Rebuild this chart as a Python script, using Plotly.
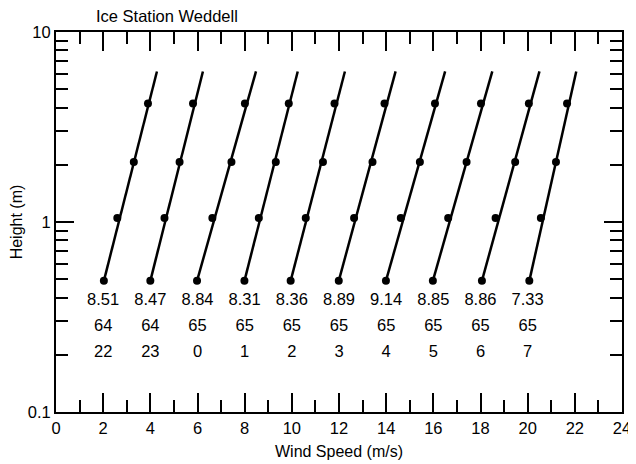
import plotly.graph_objects as go

# wind profiles, each run shifted 2 m/s to the right
heights = [0.49, 1.05, 2.07, 4.2]
x_049 = [2.03, 4.00, 5.98, 7.99, 9.95, 11.99, 13.99, 15.98, 18.06, 20.07]
x_105 = [2.60, 4.60, 6.63, 8.60, 10.59, 12.64, 14.62, 16.63, 18.64, 20.56]
x_207 = [3.30, 5.24, 7.44, 9.32, 11.32, 13.42, 15.43, 17.41, 19.47, 21.20]
x_420 = [3.90, 5.81, 8.01, 9.87, 11.81, 13.93, 16.07, 18.02, 20.05, 21.67]

# fitted log profile, drawn from the lowest level up to 6.2 m
fit_heights = [0.49, 6.2]
fit_top_x = [4.28, 6.23, 8.48, 10.25, 12.25, 14.40, 16.50, 18.50, 20.50, 22.06]

label_x = [2, 4, 6, 8, 10, 12, 14, 16, 18, 20]
speed = ["8.51", "8.47", "8.84", "8.31", "8.36", "8.89", "9.14", "8.85", "8.86", "7.33"]
day = ["64", "64", "65", "65", "65", "65", "65", "65", "65", "65"]
hour = ["22", "23", "0", "1", "2", "3", "4", "5", "6", "7"]

FONT = "Liberation Sans, Arial, sans-serif"

fig = go.Figure()
for i in range(len(x_049)):
    fig.add_trace(go.Scatter(
        x=[x_049[i], fit_top_x[i]], y=fit_heights, mode="lines",
        line=dict(color="black", width=2.5), showlegend=False, hoverinfo="skip",
    ))
    fig.add_trace(go.Scatter(
        x=[x_049[i], x_105[i], x_207[i], x_420[i]], y=heights, mode="markers",
        marker=dict(color="black", size=8), showlegend=False,
    ))

for row, y in [(speed, 0.384), (day, 0.28), (hour, 0.205)]:
    fig.add_trace(go.Scatter(
        x=label_x, y=[y] * len(label_x), mode="text", text=row,
        textfont=dict(size=16.5, color="black", family=FONT),
        showlegend=False, hoverinfo="skip",
    ))

axis_common = dict(
    showline=True, linecolor="black", linewidth=2, mirror="allticks",
    ticks="inside", tickcolor="black", tickwidth=1.5,
    showgrid=False, zeroline=False, automargin=False,
    tickfont=dict(size=16.5, color="black", family=FONT),
)

fig.update_xaxes(
    range=[0, 24], tickvals=list(range(0, 25, 2)), ticklen=19,
    minor=dict(tickvals=list(range(1, 24, 2)), ticks="inside", ticklen=12,
               tickcolor="black", tickwidth=1.5, showgrid=False),
    title=dict(text="Wind Speed (m/s)", font=dict(size=16, color="black", family=FONT), standoff=10),
    **axis_common,
)
fig.update_yaxes(
    type="log", range=[-1, 1], tickvals=[0.1, 1, 10], ticktext=["0.1", "1", "10"], ticklen=18,
    minor=dict(tickvals=[0.2, 0.3, 0.4, 0.5, 0.6, 0.7, 0.8, 0.9, 2, 3, 4, 5, 6, 7, 8, 9],
               ticks="inside", ticklen=12, tickcolor="black", tickwidth=1.5, showgrid=False),
    title=dict(text="Height (m)", font=dict(size=16, color="black", family=FONT), standoff=11),
    **axis_common,
)

# the page body adds an 8 px margin, so the figure is made 8 px smaller
fig.update_layout(
    width=628, height=456,
    margin=dict(l=48, r=14, t=24, b=52),
    paper_bgcolor="white", plot_bgcolor="white",
    annotations=[dict(
        text="Ice Station Weddell", xref="paper", yref="paper", x=0.067, y=1.0,
        xanchor="left", yanchor="bottom", yshift=5, showarrow=False,
        font=dict(size=16.5, color="black", family=FONT),
    )],
)

fig.write_html("out.html")
